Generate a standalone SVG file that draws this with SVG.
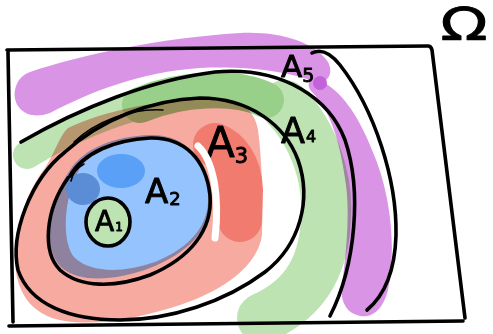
<svg xmlns="http://www.w3.org/2000/svg" width="493" height="334" viewBox="0 0 493 334">
<style>
.ink{fill:none;stroke:#000;stroke-width:3.6;stroke-linecap:round;stroke-linejoin:round}
.thin{fill:none;stroke:#000;stroke-width:1.6;stroke-linecap:round}
.mul{mix-blend-mode:multiply}
.band{fill:none;stroke-linecap:round;stroke-linejoin:round}
.lbl{font-family:"DejaVu Sans","Liberation Sans",sans-serif;fill:#000;stroke:#000;stroke-width:0.9;stroke-linejoin:round}
</style>
<rect width="493" height="334" fill="#fff"/>

<g id="A3">
  <path fill="#f6aaa0" fill-rule="evenodd" d="M 68,128 C 105,110 160,100 210,98 C 240,97 255,110 258,130 C 262,160 263,200 262,235 C 258,265 225,290 180,305 C 140,318 100,326 65,321 C 30,316 15,290 15,258 C 15,225 28,190 45,168 C 55,152 60,135 68,128 Z M 80,168 C 95,148 120,138 150,137 C 185,136 206,160 208,195 C 210,225 190,248 155,262 C 120,274 90,272 75,258 C 62,245 62,200 80,168 Z"/>
  <path class="band" stroke="#f27b70" stroke-width="44" d="M 215,145 C 228,150 240,165 241,190 L 240,220"/>
  <path class="ink" d="M 65,152 C 100,120 150,100 200,98 C 250,98 285,125 298,160 C 312,200 300,245 265,272 C 225,302 170,320 120,320 C 70,320 30,305 18,270 C 10,235 30,180 65,152"/>
  <path class="thin" d="M 74,142 C 95,122 130,108 163,110"/>
  <text class="lbl" x="206" y="157" font-size="42">A<tspan font-size="21" dy="6">3</tspan></text>
</g>

<g id="A2">
  <path class="mul" fill="#94c3fd" d="M 70,170 C 84,148 115,136 150,135 C 186,134 207,160 210,195 C 213,228 190,252 150,268 C 115,281 80,283 62,268 C 44,252 44,208 70,170 Z"/>
  <path class="band" stroke="#fff" stroke-width="7" d="M 198,146 C 213,160 220,195 215,238"/>
  <ellipse cx="83" cy="189" rx="17" ry="16" fill="#5a8dd5"/>
  <ellipse cx="121" cy="171" rx="24" ry="17" fill="#59a0f6"/>
  <path class="ink" d="M 70,176 C 84,152 115,140 150,138 C 185,137 206,160 210,195 C 213,230 190,258 150,275 C 115,288 80,288 60,270 C 42,252 45,210 68,178"/>
  <path class="thin" stroke-width="2.2" d="M 71,181 Q 73,170 84,164"/>
  <text class="lbl" x="145" y="203" font-size="34">A<tspan font-size="18" dx="1" dy="2">2</tspan></text>
</g>

<g id="A1">
  <ellipse cx="108" cy="222" rx="22" ry="24" fill="#bde3b3" stroke="#000" stroke-width="3.6"/>
  <text class="lbl" x="95" y="231" font-size="28">A<tspan font-size="12" dx="1">1</tspan></text>
</g>

<g id="A4">
  <g class="mul">
    <path class="band" stroke="#bde3b3" stroke-width="28" d="M 27,155 C 60,135 100,115 150,103"/>
    <path class="band" stroke="#bde3b3" stroke-width="50" d="M 285,105 C 315,135 328,180 326,215 C 325,262 308,298 262,318"/>
    <path class="band" stroke="#98d08a" stroke-width="36" d="M 140,105 C 180,88 235,85 266,100"/>
  </g>
  <path class="ink" d="M 21,142 C 80,108 150,80 215,72 C 285,66 330,100 345,140 C 362,190 356,265 330,316"/>
  <text class="lbl" x="281" y="143" font-size="35">A<tspan font-size="16" dx="1" dy="-1">4</tspan></text>
</g>

<g id="A5">
  <g class="mul">
    <path fill="#d994e6" d="M 30,72 C 80,55 160,38 240,33 C 280,31 315,42 328,62 C 335,75 325,85 315,82 C 290,72 250,66 200,68 C 140,72 90,92 50,113 C 25,122 12,105 15,90 C 17,80 22,75 30,72 Z"/>
    <path fill="#d994e6" d="M 318,80 C 340,88 358,115 372,150 C 392,195 396,250 388,290 C 383,310 372,318 360,316 C 345,313 340,300 342,285 C 346,255 350,215 346,185 C 340,140 330,110 312,92 C 305,84 310,78 318,80 Z"/>
    <circle cx="320" cy="83" r="7" fill="#c462da"/>
  </g>
  <path class="ink" d="M 312,53 C 322,48 332,55 340,65 C 375,110 397,180 396,235 C 395,270 385,295 367,310"/>
  <text class="lbl" x="281" y="77" font-size="31">A<tspan font-size="19" dy="5">5</tspan></text>
</g>

<g id="omega">
  <path class="ink" stroke-width="4" d="M 7,50 L 428,46 Q 431,46 432,50 L 465,318 M 463,321 L 9,326 M 8,52 L 13,322"/>
  <text class="lbl" transform="translate(464,40) scale(1.4,1)" text-anchor="middle" font-size="44">Ω</text>
</g>
</svg>
